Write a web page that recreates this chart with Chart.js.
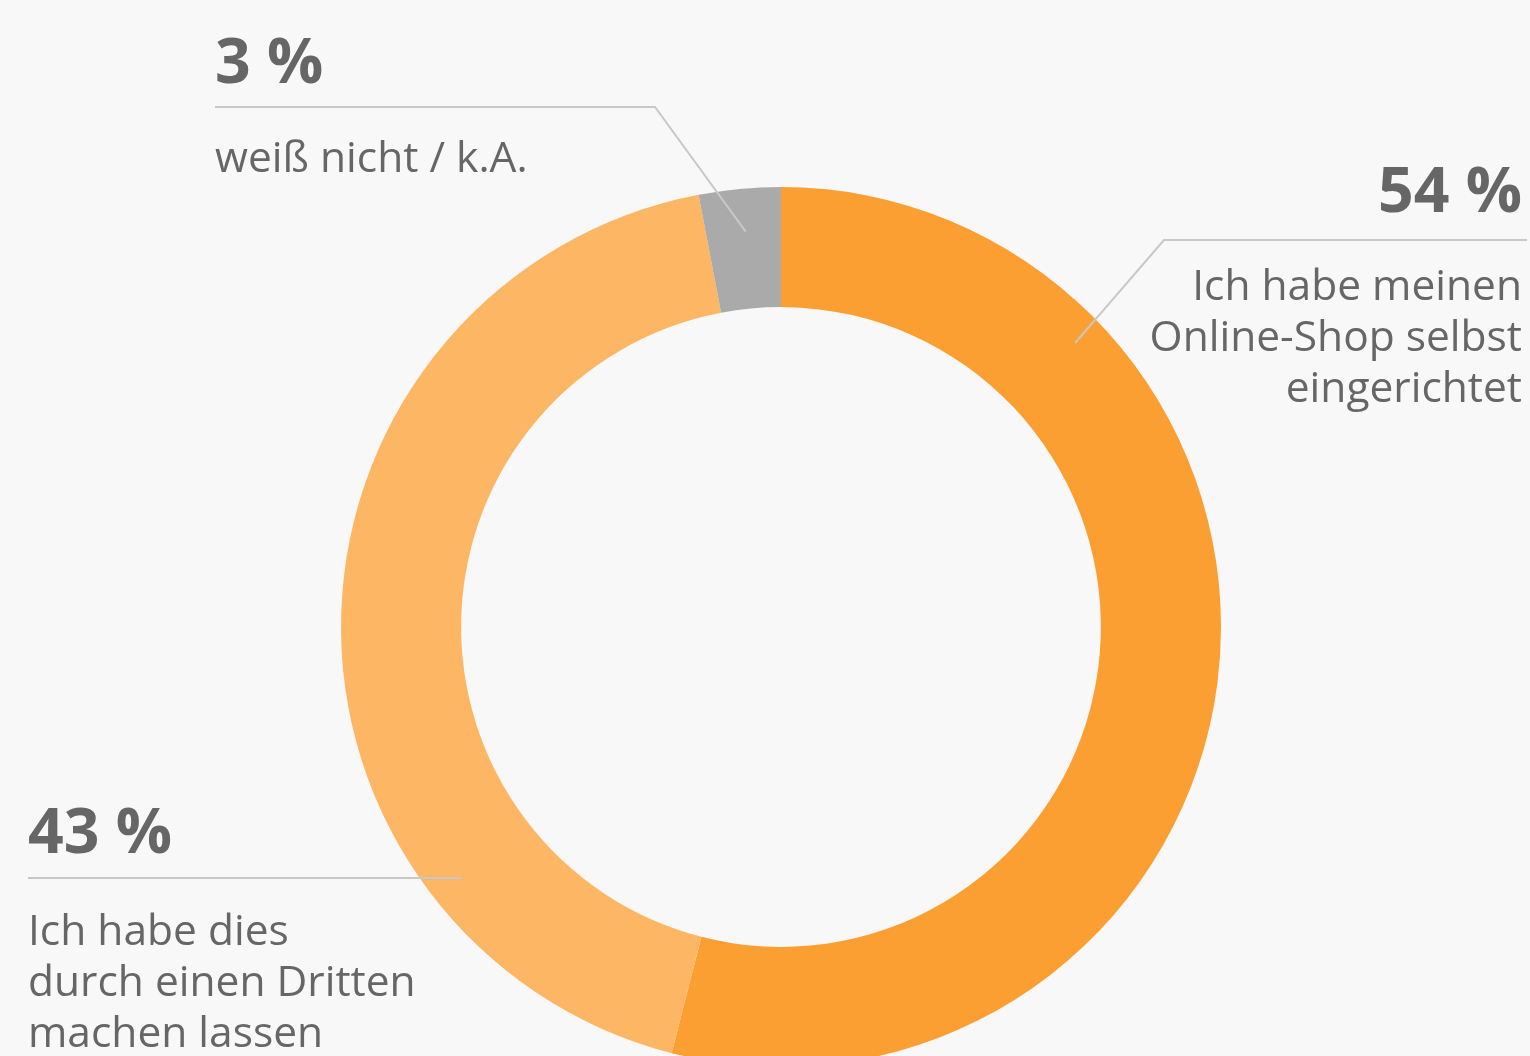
<!DOCTYPE html>
<html>
<head>
<meta charset="utf-8">
<script src="https://cdn.jsdelivr.net/npm/chart.js@4/dist/chart.umd.min.js"></script>
<style>
  html, body { margin: 0; padding: 0; background: #f8f8f8; }
  #wrap { position: relative; width: 1530px; height: 1056px; overflow: hidden; }
  #box { position: absolute; left: 0; top: 0; width: 1530px; height: 1254px; }
</style>
</head>
<body>
<div id="wrap"><div id="box"><canvas id="c"></canvas></div></div>
<script>
const categories = [
  "Ich habe meinen Online-Shop selbst eingerichtet",
  "Ich habe dies durch einen Dritten machen lassen",
  "weiß nicht / k.A."
];
const values = [54, 43, 3];
const valueLabels = ["54 %", "43 %", "3 %"];
const labelLines = [
  ["Ich habe meinen", "Online-Shop selbst", "eingerichtet"],
  ["Ich habe dies", "durch einen Dritten", "machen lassen"],
  ["weiß nicht / k.A."]
];
const colors = ["#fc9f32", "#fcb664", "#aaaaaa"];

// label layout (text placement + leader line anchor on the ring)
const layout = [
  { x: 1522, align: "right", pctY: 212, lineY: 240, lineFrom: 1527, lineTo: 1164, angle: 46, r: 409, firstY: 300 },
  { x: 28, align: "left", pctY: 853, lineY: 878, lineFrom: 28, lineTo: 462, angle: null, firstY: 945 },
  { x: 215, align: "left", pctY: 83, lineY: 107, lineFrom: 215, lineTo: 655, angle: -5.1, r: 397, firstY: 172 }
];

const labelPlugin = {
  id: "labels",
  afterDraw(chart) {
    const ctx = chart.ctx;
    const arc = chart.getDatasetMeta(0).data[0];
    const cx = arc.x, cy = arc.y;
    ctx.save();
    ctx.strokeStyle = "#c8c8c8";
    ctx.lineWidth = 2;
    layout.forEach((L, i) => {
      ctx.beginPath();
      ctx.moveTo(L.lineFrom, L.lineY);
      ctx.lineTo(L.lineTo, L.lineY);
      if (L.angle !== null) {
        const a = L.angle * Math.PI / 180;
        ctx.lineTo(cx + Math.sin(a) * L.r, cy - Math.cos(a) * L.r);
      }
      ctx.stroke();
      ctx.fillStyle = "#666666";
      ctx.textAlign = L.align;
      ctx.textBaseline = "alphabetic";
      ctx.font = "bold 62.5px 'Open Sans'";
      ctx.fillText(valueLabels[i], L.x, L.pctY);
      ctx.font = "42.5px 'Open Sans'";
      labelLines[i].forEach((t, k) => ctx.fillText(t, L.x, L.firstY + k * 51));
    });
    ctx.restore();
  }
};

function build() {
  new Chart(document.getElementById("c"), {
    type: "doughnut",
    data: {
      labels: categories,
      datasets: [{ data: values, backgroundColor: colors, borderWidth: 0, hoverOffset: 0 }]
    },
    options: {
      responsive: true,
      maintainAspectRatio: false,
      animation: false,
      cutout: "72.7%",
      layout: { padding: { top: 187, bottom: 187, left: 341, right: 309 } },
      plugins: { legend: { display: false }, tooltip: { enabled: false } }
    },
    plugins: [labelPlugin]
  });
}
Promise.all([
  document.fonts.load("bold 62.5px 'Open Sans'"),
  document.fonts.load("42.5px 'Open Sans'")
]).then(build, build);
</script>
</body>
</html>
